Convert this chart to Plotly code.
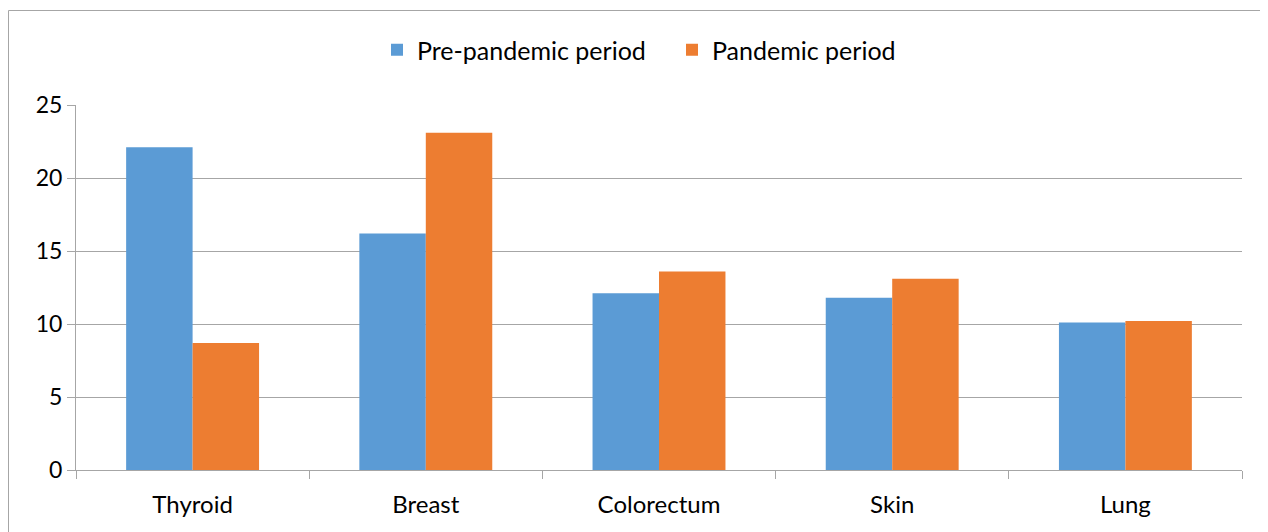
import plotly.graph_objects as go

categories = ["Thyroid", "Breast", "Colorectum", "Skin", "Lung"]
pre_pandemic = [22.1, 16.2, 12.1, 11.8, 10.1]
pandemic = [8.7, 23.1, 13.6, 13.1, 10.2]
series_names = ["Pre-pandemic period", "Pandemic period"]
y_ticks = [0, 5, 10, 15, 20, 25]

fig = go.Figure()
fig.add_trace(go.Bar(x=categories, y=pre_pandemic, name=series_names[0],
                     marker=dict(color="#5B9BD5", line=dict(width=0))))
fig.add_trace(go.Bar(x=categories, y=pandemic, name=series_names[1],
                     marker=dict(color="#ED7D31", line=dict(width=0))))

W, H = 1268, 532
l, r, t, b = 68, 34, 97, 70
pw, ph = W - l - r, H - t - b

fig.update_layout(
    width=W, height=H,
    margin=dict(l=l, r=r, t=t, b=b),
    paper_bgcolor="white", plot_bgcolor="white",
    barmode="group", bargap=0.43, bargroupgap=0,
    font=dict(family="Lato, Open Sans, sans-serif", size=24, color="#000000"),
    legend=dict(orientation="h", x=(369 - l) / pw, xanchor="left",
                y=1.0 + (t - 42) / ph, yanchor="middle",
                font=dict(size=25), traceorder="normal",
                entrywidth=250, entrywidthmode="pixels"),
    xaxis=dict(showgrid=False, showline=True, linecolor="#a6a6a6", linewidth=1,
               ticks="outside", tickson="boundaries", ticklen=8, tickcolor="#a6a6a6",
               tickfont=dict(size=24), ticklabelstandoff=13),
    yaxis=dict(range=[0, 25], tickvals=y_ticks, showgrid=True, gridcolor="#a6a6a6",
               gridwidth=1, showline=True, linecolor="#a6a6a6", linewidth=1,
               ticks="outside", ticklen=8, tickcolor="#a6a6a6", zeroline=False,
               tickfont=dict(size=23)),
    shapes=[dict(type="rect", xref="paper", yref="paper",
                 x0=(0.5 - l) / pw, x1=(1300 - l) / pw,
                 y0=-(b + 40) / ph, y1=1 + (t - 2.5) / ph,
                 line=dict(color="#a6a6a6", width=1), fillcolor="rgba(0,0,0,0)",
                 layer="below")],
)

fig.write_html("out.html")
